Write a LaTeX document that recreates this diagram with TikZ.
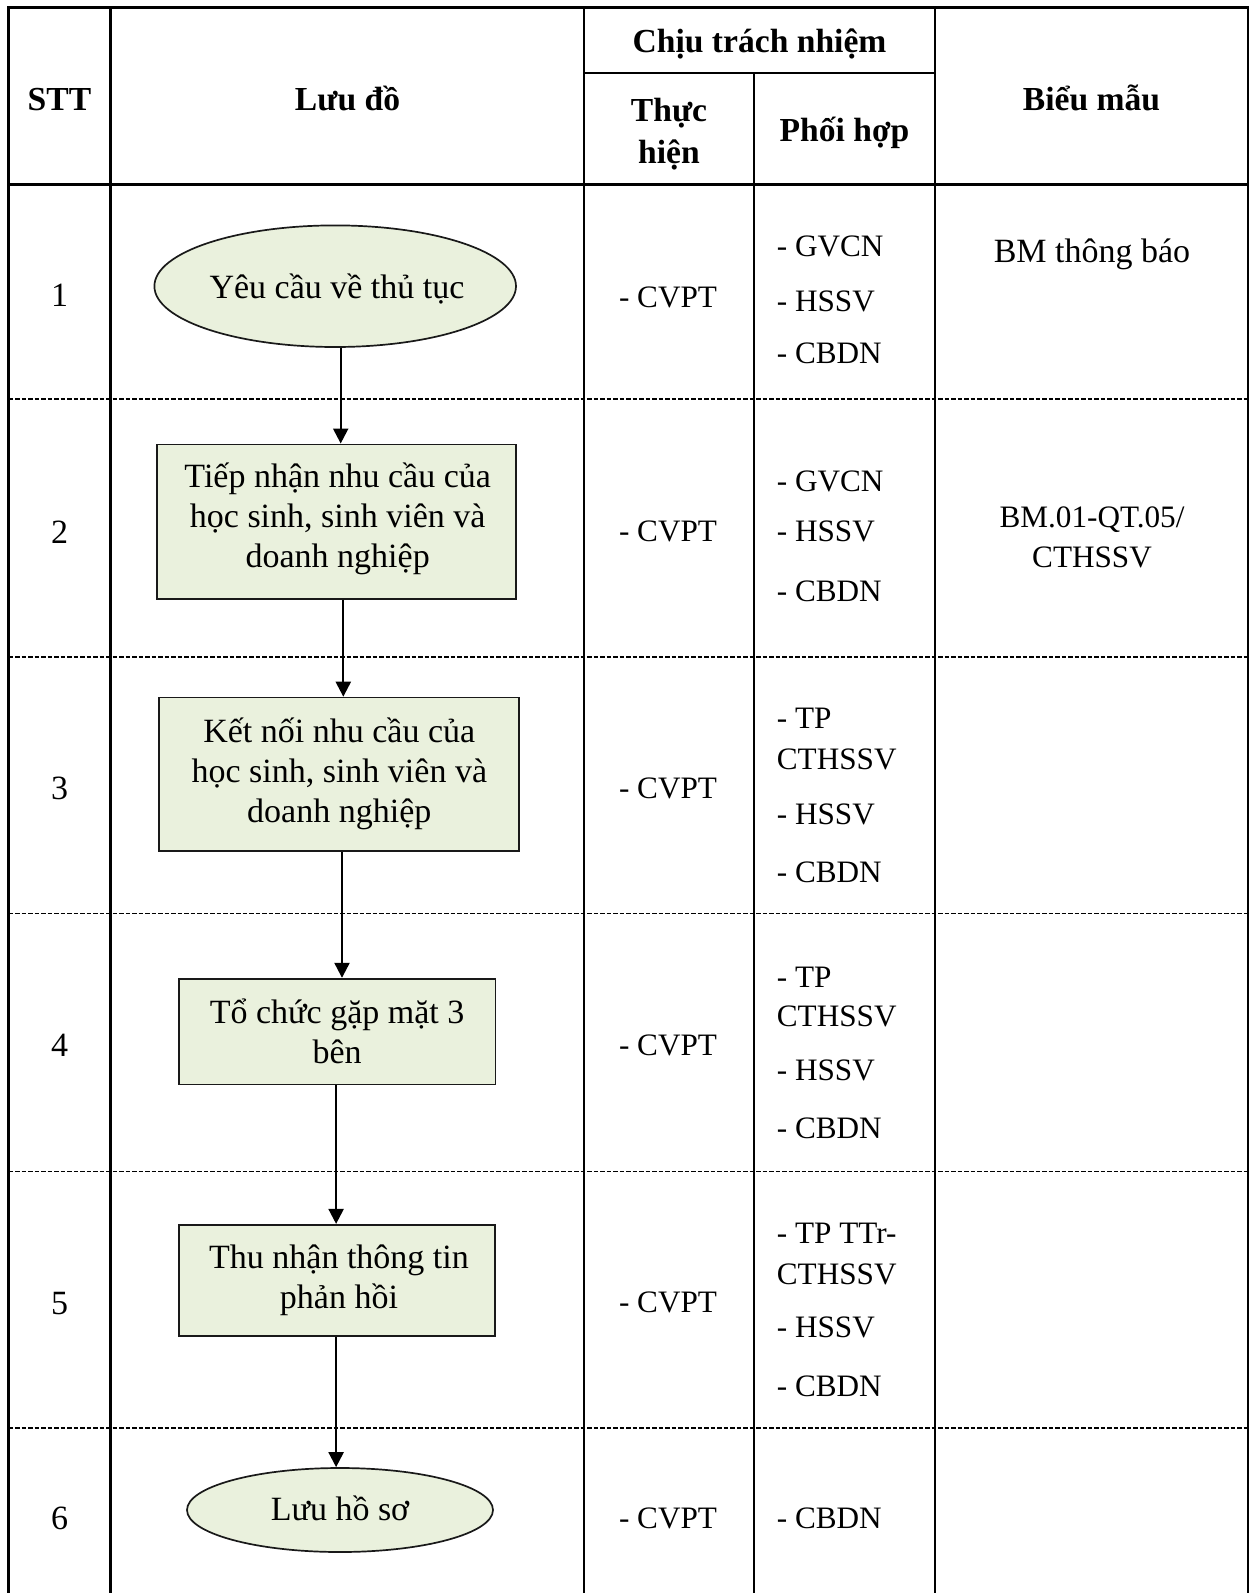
\documentclass[tikz,border=0pt]{standalone}
\usepackage{fontspec}
\setmainfont{Liberation Serif}
\usetikzlibrary{arrows.meta,shapes.geometric}
\definecolor{shapefill}{HTML}{EAF1DD}
\begin{document}
\begin{tikzpicture}[x=1pt,y=-1pt,
  frame/.style={line width=2.3pt,line join=miter},
  rowsep/.style={line width=1.4pt,dash pattern=on 4.5pt off 2pt},
  th/.style={font=\fontsize{33.6}{38.6}\selectfont\bfseries,inner sep=0pt,anchor=base},
  tb/.style={font=\fontsize{31.2}{36}\selectfont,inner sep=0pt,anchor=base},
  tbl/.style={tb,anchor=base west},
  tbig/.style={font=\fontsize{34}{39}\selectfont,inner sep=0pt,anchor=base},
  procbox/.style={draw=black!90,line width=1.7pt,fill=shapefill,rectangle,inner sep=0pt},
  termin/.style={draw=black!90,line width=1.7pt,fill=shapefill,ellipse,inner sep=0pt},
  arr/.style={line width=2.3pt,-{Triangle[length=15pt,width=15pt]}}
]
\useasboundingbox (0,0) rectangle (1252,1593);
\fill[white] (0,0) rectangle (1252,1593);

% dashed row separators
\foreach \yy in {399,657,913.5,1171.5,1428}
  \draw[rowsep] (8.5,\yy) -- (1248,\yy);

% solid grid
\draw[frame] (8.5,1596) -- (8.5,7.5) -- (1248,7.5) -- (1248,1596);
\draw[frame] (110.5,7.5) -- (110.5,1596);
\draw[frame] (584,7.5) -- (584,1596);
\draw[frame] (935,7.5) -- (935,1596);
\draw[frame] (754,73) -- (754,1596);
\draw[frame] (584,73) -- (935,73);
\draw[frame] (8.5,184.5) -- (1248,184.5);

% header
\node[th] (hSTT) at (59.5,110) {STT};
\node[th] (hLD) at (347.5,110) {Lưu đồ};
\node[th] (hCTN) at (759.5,52) {Chịu trách nhiệm};
\node[th] (hTH1) at (669,121.5) {Thực};
\node[th] (hTH2) at (669,163) {hiện};
\node[th] (hPH) at (844.5,141) {Phối hợp};
\node[th] (hBM) at (1091.5,110) {Biểu mẫu};

% shapes
\node[termin,minimum width=361.6pt,minimum height=121.6pt] (e1) at (335.2,286.2) {};
\node[procbox,minimum width=359pt,minimum height=154.7pt] (b2) at (336.5,521.7) {};
\node[procbox,minimum width=359.8pt,minimum height=153.5pt] (b3) at (338.9,774.3) {};
\node[procbox,minimum width=316.7pt,minimum height=105.7pt] (b4) at (337,1031.5) {};
\node[procbox,minimum width=316.3pt,minimum height=111.3pt] (b5) at (336.9,1280.4) {};
\node[termin,minimum width=306pt,minimum height=84pt] (e6) at (340,1510) {};

% shape texts
\node[tbig] (s1) at (337,298) {Yêu cầu về thủ tục};
\node[tbig] (s2a) at (337.7,487) {Tiếp nhận nhu cầu của};
\node[tbig] (s2b) at (337.7,527) {học sinh, sinh viên và};
\node[tbig] (s2c) at (337.7,567) {doanh nghiệp};
\node[tbig] (s3a) at (339.3,742) {Kết nối nhu cầu của};
\node[tbig] (s3b) at (339.3,782) {học sinh, sinh viên và};
\node[tbig] (s3c) at (339.3,822) {doanh nghiệp};
\node[tbig] (s4a) at (337.1,1023.5) {Tổ chức gặp mặt 3};
\node[tbig] (s4b) at (337.1,1063) {bên};
\node[tbig] (s5a) at (339,1268) {Thu nhận thông tin};
\node[tbig] (s5b) at (339,1308) {phản hồi};
\node[tbig] (s6) at (340,1520) {Lưu hồ sơ};

% connectors
\coordinate (x1) at (340.7,0);
\coordinate (x2) at (343.3,0);
\coordinate (x3) at (342,0);
\coordinate (x4) at (336.1,0);
\draw[arr] (e1.south -| x1) -- (b2.north -| x1);
\draw[arr] (b2.south -| x2) -- (b3.north -| x2);
\draw[arr] (b3.south -| x3) -- (b4.north -| x3);
\draw[arr] (b4.south -| x4) -- (b5.north -| x4);
\draw[arr] (b5.south -| x4) -- (e6.north -| x4);

% STT numbers
\node[tbig] (n1) at (59.5,306.5) {1};
\node[tbig] (n2) at (59.5,543) {2};
\node[tbig] (n3) at (59.5,799) {3};
\node[tbig] (n4) at (59.5,1056.5) {4};
\node[tbig] (n5) at (59.5,1314) {5};
\node[tbig] (n6) at (59.5,1529.5) {6};

% Thuc hien
\node[tb] (r1th) at (668,307) {- CVPT};
\node[tb] (r2th) at (668,541) {- CVPT};
\node[tb] (r3th) at (668,798) {- CVPT};
\node[tb] (r4th) at (668,1055.4) {- CVPT};
\node[tb] (r5th) at (668,1312.7) {- CVPT};
\node[tb] (r6th) at (668,1528.3) {- CVPT};

% Phoi hop
\node[tbl] (r1a) at (776.7,256.3) {- GVCN};
\node[tbl] (r1b) at (776.7,311) {- HSSV};
\node[tbl] (r1c) at (776.7,363) {- CBDN};
\node[tbl] (r2a) at (776.7,491.3) {- GVCN};
\node[tbl] (r2b) at (776.7,541.7) {- HSSV};
\node[tbl] (r2c) at (776.7,601.7) {- CBDN};
\node[tbl] (r3a) at (776.7,728.6) {- TP};
\node[tbl] (r3b) at (776.7,769) {CTHSSV};
\node[tbl] (r3c) at (776.7,824) {- HSSV};
\node[tbl] (r3d) at (776.7,882.4) {- CBDN};
\node[tbl] (r4a) at (776.7,987.5) {- TP};
\node[tbl] (r4b) at (776.7,1026.7) {CTHSSV};
\node[tbl] (r4c) at (776.7,1080.3) {- HSSV};
\node[tbl] (r4d) at (776.7,1138.5) {- CBDN};
\node[tbl] (r5a) at (776.7,1243) {- TP TTr-};
\node[tbl] (r5b) at (776.7,1284) {CTHSSV};
\node[tbl] (r5c) at (776.7,1337) {- HSSV};
\node[tbl] (r5d) at (776.7,1396) {- CBDN};
\node[tbl] (r6a) at (776.7,1528.3) {- CBDN};

% Bieu mau
\node[tbig] (r1bm) at (1092,262) {BM thông báo};
\node[tb] (r2bma) at (1092,527) {BM.01-QT.05/};
\node[tb] (r2bmb) at (1092,567) {CTHSSV};
\end{tikzpicture}
\end{document}
